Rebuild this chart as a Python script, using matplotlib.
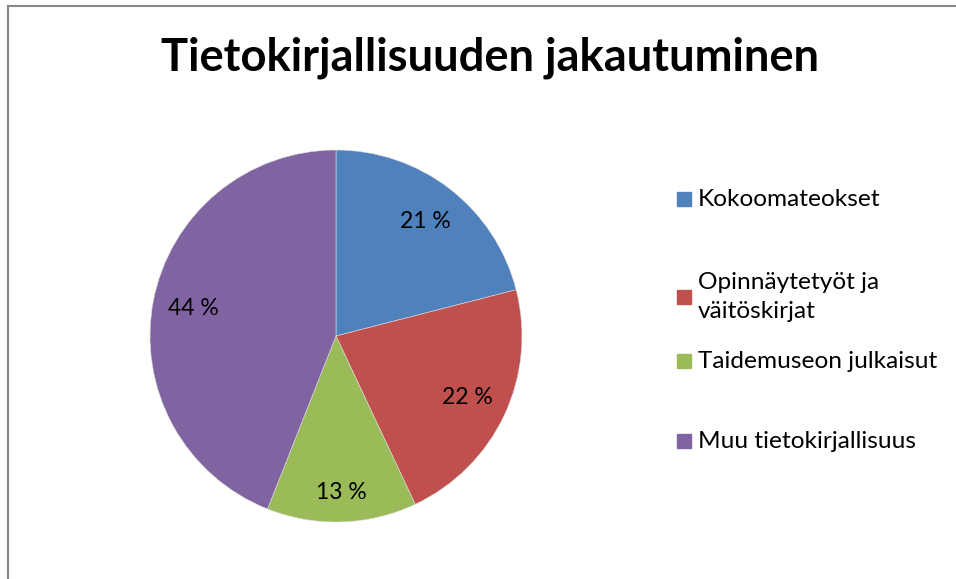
import matplotlib.pyplot as plt
from matplotlib.patches import Rectangle

categories = ['Kokoomateokset', 'Opinnäytetyöt ja\nväitöskirjat',
              'Taidemuseon julkaisut', 'Muu tietokirjallisuus']
values = [21, 22, 13, 44]
colors = ['#4F81BD', '#C0504D', '#9BBB59', '#8064A2']
title = 'Tietokirjallisuuden jakautuminen'

plt.rcParams['font.family'] = ['Lato', 'DejaVu Sans']

W, H = 956, 579
fig = plt.figure(figsize=(W / 100, H / 100), dpi=100)

# chart frame (only left and top visible)
fig.add_artist(plt.Line2D([8 / W, 8 / W], [0, 1 - 6 / H], color='#888888', lw=1.5))
fig.add_artist(plt.Line2D([8 / W, 1], [1 - 6 / H, 1 - 6 / H], color='#888888', lw=1.5))

cx, cy, r = 336, 336, 186
ax = fig.add_axes([(cx - r) / W, (H - cy - r) / H, 2 * r / W, 2 * r / H])
wedges, texts, autotexts = ax.pie(values, colors=colors, startangle=90, counterclock=False,
                                  autopct=lambda p: f'{p:.0f} %', pctdistance=0.78,
                                  wedgeprops=dict(linewidth=0.4, edgecolor='#dddddd'),
                                  textprops=dict(fontsize=16.5))
ax.set_xlim(-1, 1)
ax.set_ylim(-1, 1)

# 13 % label sits a bit further out
x13, y13 = autotexts[2].get_position()
autotexts[2].set_position((x13 * 1.08, y13 * 1.08))

fig.text(490 / W, 1 - 58 / H, title, ha='center', va='center', fontsize=32.7, fontweight='bold')

legend_y = [199, 297, 361, 441]
for name, c, y in zip(categories, colors, legend_y):
    fig.add_artist(Rectangle((677 / W, 1 - (y + 7) / H), 14 / W, 14 / H, color=c))
    fig.text(698 / W, 1 - y / H, name, ha='left', va='center', fontsize=17.6, linespacing=1.45)

fig.savefig('out.png', dpi=100)
